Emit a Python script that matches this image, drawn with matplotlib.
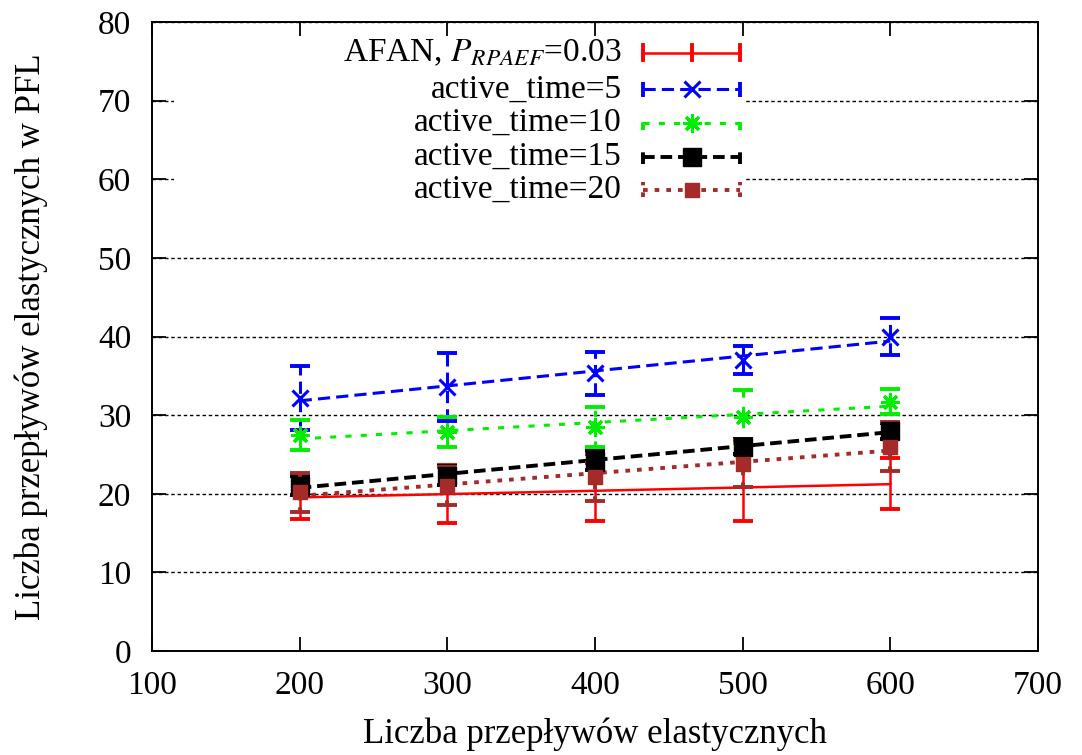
import numpy as np
import matplotlib
matplotlib.use("Agg")
import matplotlib.pyplot as plt
from matplotlib.patches import Rectangle
from matplotlib.lines import Line2D

plt.rcParams['font.family'] = ['Liberation Serif', 'DejaVu Serif']
plt.rcParams['mathtext.fontset'] = 'stix'

flows = [200, 300, 400, 500, 600]

afan = [19.6, 20.0, 20.2, 20.8, 21.3]
afan_err = [2.8, 3.7, 3.7, 4.3, 3.2]
at5 = [32.2, 33.6, 35.3, 37.0, 40.0]
at5_err = [4.1, 4.3, 2.7, 1.8, 2.3]
at10 = [27.5, 27.8, 28.5, 29.8, 31.7]
at10_err = [1.9, 1.9, 2.5, 3.4, 1.6]
at15 = [21.0, 22.3, 24.2, 26.0, 28.0]
at15_err = [1.2, 1.2, 1.2, 1.0, 1.0]
at20 = [20.2, 21.0, 22.1, 23.8, 26.0]
at20_err = [2.5, 2.4, 3.0, 3.0, 3.1]

labels = [r"AFAN, $P_{RPAEF}$=0.03", "active_time=5", "active_time=10",
          "active_time=15", "active_time=20"]

series = [
    dict(y=afan, e=afan_err, color='#ff0000', ls='-', marker='None', ms=0, lw=1.8, mew=1.5),
    dict(y=at5, e=at5_err, color='#0000ff', ls=(0, (4, 2)), marker='x', ms=11, lw=2.2, mew=2.2),
    dict(y=at10, e=at10_err, color='#00ee00', ls=(0, (2, 3)), marker=(8, 2, 0), ms=13, lw=2.2, mew=2.2),
    dict(y=at15, e=at15_err, color='#000000', ls=(0, (3, 1.5)), marker='s', ms=13, lw=3, mew=1),
    dict(y=at20, e=at20_err, color='#a52a2a', ls=(0, (1.2, 1.8)), marker='s', ms=10, lw=3, mew=1),
]

FS = 24

fig = plt.figure(figsize=(10.82, 7.55), dpi=100)
ax = fig.add_axes([0.1405, 0.1377, 0.8188, 0.8332])

x = np.array(flows, dtype=float)
for s in series:
    y = np.array(s['y'])
    coef = np.polyfit(x, y, 1)
    ax.plot(x, np.polyval(coef, x), color=s['color'], ls=s['ls'], lw=s['lw'] if s['lw'] < 3 else 2.8, zorder=3)
    cont = ax.errorbar(x, y, yerr=s['e'], fmt='none', ecolor=s['color'],
                       elinewidth=s['lw'] if s['lw'] < 3 else 2.8, capsize=7, capthick=2.8, zorder=4)
    for lc in cont[2]:
        lc.set_linestyle(s['ls'])
    if s['marker'] != 'None':
        ax.plot(x, y, ls='none', marker=s['marker'], ms=s['ms'], color=s['color'],
                mec=s['color'], mew=s['mew'], zorder=5)

ax.set_xlim(100, 700)
ax.set_ylim(0, 80)
ax.set_xticks(range(100, 701, 100))
ax.set_yticks(range(0, 81, 10))
ax.tick_params(direction='in', length=10, width=1.3, top=True, right=True, labelsize=FS)
ax.tick_params(axis='x', pad=14)
ax.tick_params(axis='y', pad=15)
for sp in ax.spines.values():
    sp.set_linewidth(1.4)
ax.yaxis.grid(True, color='black', ls=(0, (2.5, 2)), lw=1.0)
ax.set_axisbelow(True)

ax.set_xlabel("Liczba przepływów elastycznych", fontsize=FS + 1, labelpad=12)
ax.set_ylabel("Liczba przepływów elastycznych w PFL", fontsize=FS + 1, labelpad=36)

# legend (gnuplot style)
ax.add_patch(Rectangle((0.025, 0.705), 0.645, 0.27, transform=ax.transAxes,
                       facecolor='white', edgecolor='none', zorder=1))
rows = [0.951, 0.893, 0.840, 0.786, 0.733]
x0, x1 = 0.554, 0.664
xm = (x0 + x1) / 2
ch = 0.012
for lab, yy, s in zip(labels, rows, series):
    ax.text(0.530, yy, lab, transform=ax.transAxes, ha='right', va='center',
            fontsize=FS, zorder=6)
    lw = s['lw'] if s['lw'] < 3 else 2.8
    ax.add_line(Line2D([x0, x1], [yy, yy], transform=ax.transAxes, color=s['color'],
                       ls=s['ls'], lw=lw, zorder=6))
    for xc in (x0, x1):
        ax.add_line(Line2D([xc, xc], [yy - ch, yy + ch], transform=ax.transAxes,
                           color=s['color'], ls=s['ls'], lw=2.8, zorder=6))
    if s['marker'] != 'None':
        ax.add_line(Line2D([xm], [yy], transform=ax.transAxes, ls='none',
                           marker=s['marker'], ms=s['ms'], color=s['color'],
                           mec=s['color'], mew=s['mew'], zorder=7))
    else:
        ax.add_line(Line2D([xm, xm], [yy - ch, yy + ch], transform=ax.transAxes,
                           color=s['color'], lw=2.8, zorder=6))

fig.savefig("out.png", dpi=100)
